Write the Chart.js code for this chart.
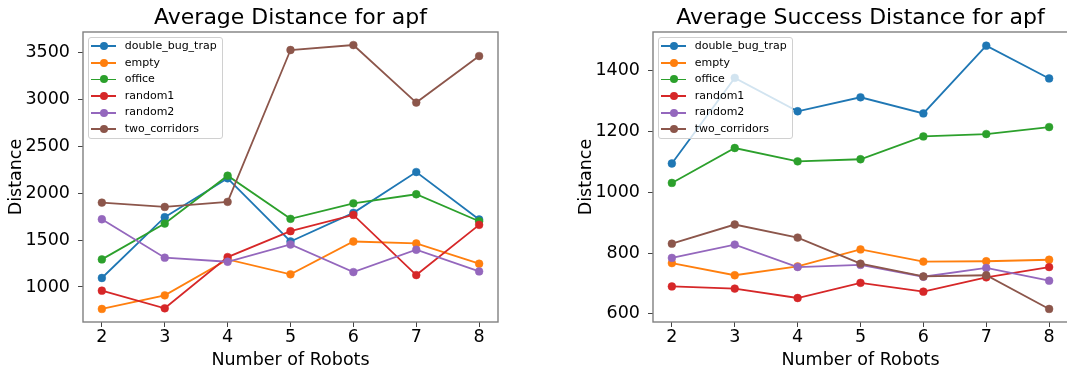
<!DOCTYPE html>
<html>
<head>
<meta charset="utf-8">
<script src="https://cdn.jsdelivr.net/npm/chart.js@4/dist/chart.umd.min.js"></script>
<style>
  html, body { margin: 0; padding: 0; background: #fff; overflow: hidden; }
  body { width: 1067px; height: 373px; position: relative; }
  canvas { position: absolute; top: 0; }
  .legend { position: absolute; top: 37px; width: 133px; height: 100px; border: 1px solid #d0d0d0; border-radius: 3px;
            background: rgba(255,255,255,0.8); font-family: 'DejaVu Sans'; font-size: 11px; color: #000; }
  .row { position: relative; height: 16.6px; line-height: 16.6px; }
  .row .ln { position: absolute; left: 2.4px; top: 7.4px; width: 25px; height: 1.8px; }
  .row .dot { position: absolute; left: 11px; top: 4.3px; width: 8px; height: 8px; border-radius: 50%; }
  .row .tx { position: absolute; left: 35.7px; top: 0; white-space: nowrap; }
</style>
</head>
<body>
<canvas id="dist" width="533" height="373" style="left:0"></canvas>
<canvas id="succ" width="540" height="373" style="left:533px"></canvas>
<div class="legend" id="legDist" style="left:88px"></div>
<div class="legend" id="legSucc" style="left:658px"></div>
<script>
// number of robots on x
const robots = [2, 3, 4, 5, 6, 7, 8];
const maps = ['double_bug_trap', 'empty', 'office', 'random1', 'random2', 'two_corridors'];
const colors = ['#1f77b4', '#ff7f0e', '#2ca02c', '#d62728', '#9467bd', '#8c564b'];

// Average Distance for apf
const distDoubleBugTrap = [1096, 1744, 2158, 1485, 1790, 2225, 1719];
const distEmpty         = [766, 911, 1294, 1135, 1485, 1464, 1248];
const distOffice        = [1294, 1676, 2186, 1726, 1892, 1988, 1701];
const distRandom1       = [961, 773, 1319, 1595, 1768, 1127, 1662];
const distRandom2       = [1722, 1312, 1269, 1453, 1159, 1397, 1166];
const distTwoCorridors  = [1899, 1853, 1907, 3525, 3578, 2965, 3461];
const distTicks = [1000, 1500, 2000, 2500, 3000, 3500];

// Average Success Distance for apf
const succDoubleBugTrap = [1095, 1377, 1267, 1313, 1260, 1483, 1375];
const succEmpty         = [767, 727, 756, 812, 772, 773, 778];
const succOffice        = [1031, 1146, 1102, 1109, 1184, 1192, 1215];
const succRandom1       = [690, 683, 652, 702, 673, 720, 754];
const succRandom2       = [784, 828, 754, 761, 722, 751, 709];
const succTwoCorridors  = [831, 894, 851, 765, 723, 727, 616];
const succTicks = [600, 800, 1000, 1200, 1400];

Chart.defaults.font.family = 'DejaVu Sans';
Chart.defaults.color = '#000';

// matplotlib-like box around the plot
const spines = {
  id: 'spines',
  afterDatasetsDraw(chart) {
    const a = chart.chartArea;
    const ctx = chart.ctx;
    ctx.save();
    ctx.strokeStyle = '#808080';
    ctx.lineWidth = 1.4;
    ctx.strokeRect(a.left, a.top, a.right - a.left, a.bottom - a.top);
    ctx.restore();
  }
};

function makeChart(id, title, series, yTicks, yMin, yMax, yWidth, yTitlePad, padRight) {
  const datasets = series.map((vals, k) => ({
    label: maps[k],
    data: robots.map((r, i) => ({ x: r, y: vals[i] })),
    borderColor: colors[k],
    backgroundColor: colors[k],
    pointBackgroundColor: colors[k],
    pointBorderColor: colors[k],
    borderWidth: 1.8,
    pointRadius: 3.9,
    pointBorderWidth: 0.5,
    tension: 0,
    order: maps.length - k
  }));

  const tickGrid = { display: true, drawOnChartArea: false, drawTicks: true, tickLength: 5, color: '#444', lineWidth: 1 };

  return new Chart(document.getElementById(id), {
    type: 'line',
    data: { datasets: datasets },
    plugins: [spines],
    options: {
      responsive: false,
      animation: false,
      devicePixelRatio: 1,
      events: [],
      layout: { padding: { left: 0, right: padRight, top: 0, bottom: 0 } },
      plugins: {
        legend: { display: false },
        tooltip: { enabled: false },
        title: {
          display: true,
          text: title,
          fullSize: false,
          color: '#000',
          font: { size: 22, weight: 'normal' },
          padding: { top: 5, bottom: 0.6 }
        }
      },
      scales: {
        x: {
          type: 'linear',
          min: 1.7,
          max: 8.3,
          afterBuildTicks: s => { s.ticks = robots.map(v => ({ value: v })); },
          afterFit: s => { s.height = 51; },
          ticks: { font: { size: 17.5 }, color: '#000', padding: 0, callback: v => String(v) },
          grid: tickGrid,
          border: { display: false },
          title: { display: true, text: 'Number of Robots', color: '#000', font: { size: 17.5 }, padding: { top: 0, bottom: 2.5 } }
        },
        y: {
          min: yMin,
          max: yMax,
          afterBuildTicks: s => { s.ticks = yTicks.map(v => ({ value: v })); },
          afterFit: s => { s.width = yWidth; },
          ticks: { font: { size: 17.5 }, color: '#000', padding: 8, callback: v => String(v) },
          grid: tickGrid,
          border: { display: false },
          title: { display: true, text: 'Distance', color: '#000', font: { size: 17.5 }, padding: { top: yTitlePad, bottom: 0 } }
        }
      }
    }
  });
}

function makeLegend(id) {
  const box = document.getElementById(id);
  maps.forEach((name, k) => {
    const row = document.createElement('div');
    row.className = 'row';
    row.innerHTML = '<span class="ln" style="background:' + colors[k] + '"></span>' +
                    '<span class="dot" style="background:' + colors[k] + '"></span>' +
                    '<span class="tx">' + name + '</span>';
    box.appendChild(row);
  });
}

makeChart('dist', 'Average Distance for apf',
  [distDoubleBugTrap, distEmpty, distOffice, distRandom1, distRandom2, distTwoCorridors],
  distTicks, 627, 3717, 83, 6.3, 35);
makeChart('succ', 'Average Success Distance for apf',
  [succDoubleBugTrap, succEmpty, succOffice, succRandom1, succRandom2, succTwoCorridors],
  succTicks, 573, 1528, 120, 43.3, 5);
makeLegend('legDist');
makeLegend('legSucc');
</script>
</body>
</html>
